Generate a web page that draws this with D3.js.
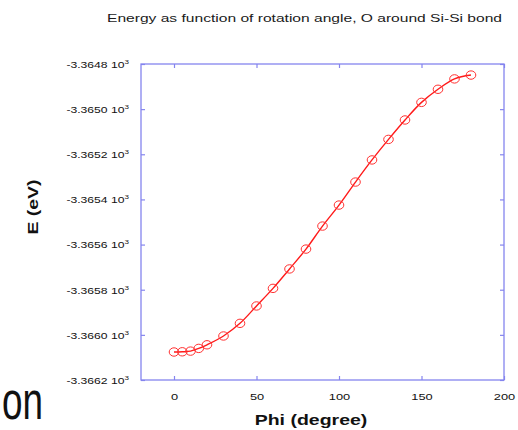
<html lang="en">
  <head>
    <meta charset="UTF-8">
    <title>Energy vs rotation angle</title>
    <script src="https://d3js.org/d3.v7.min.js"></script>
    <style>
body, html {
  margin: 0;
  padding: 0;
  width: 100%;
  height: 100%;
  overflow: hidden;
  background: white;
}
svg {
  display: block;
  font-family: "Liberation Sans", Arial, sans-serif;
}
    </style>
  </head>
  <body>
    <svg width="518" height="430"></svg>
    <script>
      // rotation angle (degree) and total energy (eV)
      const phi = [0, 5, 10, 15, 20, 30, 40, 50, 60, 70, 80, 90, 100, 110, 120, 130, 140, 150, 160, 170, 180];
      const energy = [-3366.076, -3366.075, -3366.072, -3366.060, -3366.044, -3366.005, -3365.949, -3365.872,
                      -3365.794, -3365.708, -3365.620, -3365.518, -3365.425, -3365.323, -3365.225, -3365.134,
                      -3365.048, -3364.970, -3364.912, -3364.866, -3364.849];
      const xTicks = [0, 50, 100, 150, 200];
      const yTicks = [-3364.8, -3365.0, -3365.2, -3365.4, -3365.6, -3365.8, -3366.0, -3366.2];
      const title = "Energy as function of rotation angle, O around Si-Si bond";
      const xTitle = "Phi (degree)";
      const yTitle = "E (eV)";

      const svg = d3.select("svg");
      const frameCol = "#8585ee";
      const wide = 1.35; // the source font is much wider than Arial

      const x = d3.scaleLinear().domain([-20, 200]).range([141, 504]);
      const y = d3.scaleLinear().domain([-3366.2, -3364.8]).range([380, 64]);

      // stray slide text in the corner
      svg.append("text")
        .attr("x", 2).attr("y", 419)
        .attr("font-size", 54)
        .attr("fill", "#111")
        .attr("textLength", 41)
        .attr("lengthAdjust", "spacingAndGlyphs")
        .text("on");

      svg.append("text")
        .attr("x", 107).attr("y", 22)
        .attr("font-size", 10.5)
        .attr("fill", "#1a1a1a")
        .attr("textLength", 395)
        .attr("lengthAdjust", "spacingAndGlyphs")
        .text(title);

      // axes, ticks pointing inward
      const bottom = svg.append("g").attr("transform", "translate(0,380)")
        .call(d3.axisBottom(x).tickValues(xTicks).tickSizeInner(-4).tickSizeOuter(0));
      svg.append("g").attr("transform", "translate(0,64)")
        .call(d3.axisTop(x).tickValues(xTicks).tickSizeInner(-4).tickSizeOuter(0).tickFormat(""));
      const left = svg.append("g").attr("transform", "translate(141,0)")
        .call(d3.axisLeft(y).tickValues(yTicks).tickSizeInner(-4).tickSizeOuter(0));
      svg.append("g").attr("transform", "translate(504,0)")
        .call(d3.axisRight(y).tickValues(yTicks).tickSizeInner(-4).tickSizeOuter(0).tickFormat(""));

      svg.selectAll(".domain").remove();
      svg.selectAll(".tick line").attr("stroke", frameCol).attr("stroke-width", 1.2);

      bottom.selectAll(".tick text")
        .attr("y", 0).attr("dy", 0)
        .attr("transform", `translate(0,20) scale(${wide},1)`)
        .attr("font-size", 9.5)
        .attr("font-family", "Liberation Sans, Arial, sans-serif")
        .attr("fill", "#111");

      left.selectAll(".tick text").each(function(d) {
        const t = d3.select(this);
        t.text(null)
          .attr("x", 0).attr("dy", 0)
          .attr("transform", `translate(-12,3.3) scale(${wide},1)`)
          .attr("font-size", 9)
          .attr("font-family", "Liberation Sans, Arial, sans-serif")
          .attr("fill", "#111");
        t.append("tspan").text((d / 1000).toFixed(4) + " 10");
        t.append("tspan").attr("dy", -4).attr("font-size", 6).text("3");
      });

      svg.append("rect")
        .attr("x", x.range()[0]).attr("y", y.range()[1])
        .attr("width", x.range()[1] - x.range()[0])
        .attr("height", y.range()[0] - y.range()[1])
        .attr("fill", "none")
        .attr("stroke", frameCol)
        .attr("stroke-width", 1.3);

      svg.append("text")
        .attr("transform", `translate(311,425) scale(1.3,1)`)
        .attr("text-anchor", "middle")
        .attr("font-size", 15)
        .attr("font-weight", "bold")
        .attr("fill", "#111")
        .text(xTitle);

      svg.append("text")
        .attr("transform", `translate(38,207) rotate(-90) scale(1.3,1)`)
        .attr("text-anchor", "middle")
        .attr("font-size", 15)
        .attr("font-weight", "bold")
        .attr("fill", "#111")
        .text(yTitle);

      const pts = phi.map((p, i) => [p, energy[i]]);

      svg.append("path")
        .datum(pts)
        .attr("fill", "none")
        .attr("stroke", "#ff1a1a")
        .attr("stroke-width", 1.4)
        .attr("d", d3.line().x(d => x(d[0])).y(d => y(d[1])).curve(d3.curveCatmullRom));

      svg.selectAll("ellipse.pt")
        .data(pts)
        .join("ellipse")
        .attr("class", "pt")
        .attr("cx", d => x(d[0]))
        .attr("cy", d => y(d[1]))
        .attr("rx", 4.8)
        .attr("ry", 4.2)
        .attr("fill", "none")
        .attr("stroke", "#ff3030")
        .attr("stroke-width", 1);
    </script>
  </body>
</html>
